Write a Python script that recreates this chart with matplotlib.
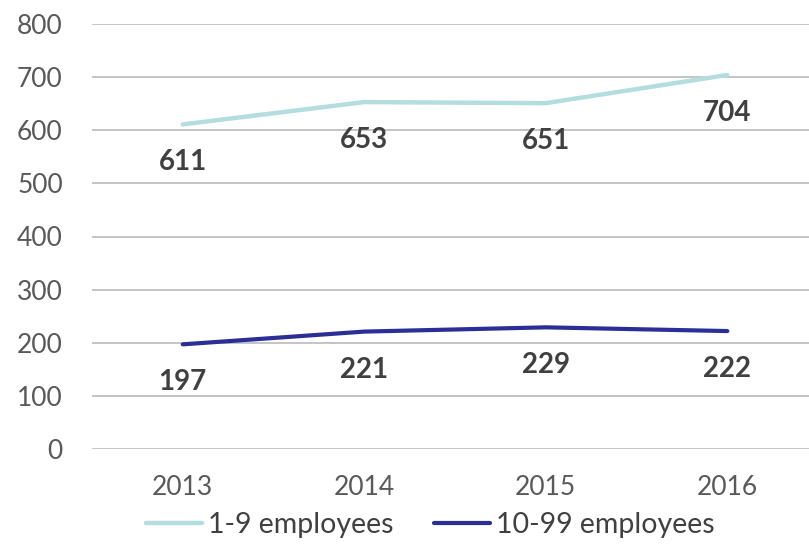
import matplotlib
matplotlib.use("Agg")
import matplotlib.pyplot as plt

years = ["2013", "2014", "2015", "2016"]
small = [611, 653, 651, 704]
medium = [197, 221, 229, 222]
series_names = ["1-9 employees", "10-99 employees"]
yticks = [0, 100, 200, 300, 400, 500, 600, 700, 800]

plt.rcParams['font.family'] = ['Lato', 'DejaVu Sans']

fig = plt.figure(figsize=(8.09, 5.48), dpi=100)
ax = fig.add_axes([92/809, 99/548, 1 - 92/809, 425/548])

x = list(range(len(years)))
c1 = "#B4DDE0"
c2 = "#2B2E96"
ax.plot(x, small, color=c1, lw=3.2, solid_capstyle='round', label=series_names[0], zorder=3)
ax.plot(x, medium, color=c2, lw=3.0, solid_capstyle='round', label=series_names[1], zorder=3)

for xi, v in zip(x, small):
    ax.annotate(str(v), (xi, v), xytext=(0, -38), textcoords='offset pixels',
                ha='center', va='center', fontsize=20, fontweight='bold', color='#404040')
for xi, v in zip(x, medium):
    ax.annotate(str(v), (xi, v), xytext=(0, -38), textcoords='offset pixels',
                ha='center', va='center', fontsize=20, fontweight='bold', color='#404040')

ax.set_xlim(-0.5, 3.45)
ax.set_ylim(0, 800)
ax.set_yticks(yticks)
ax.set_yticklabels([str(t) for t in yticks])
ax.set_xticks(x)
ax.set_xticklabels(years)
ax.grid(axis='y', color='#BFBFBF', lw=1.3)
ax.set_axisbelow(True)
for s in ax.spines.values():
    s.set_visible(False)
ax.tick_params(axis='both', length=0, labelsize=19, colors='#595959')
ax.tick_params(axis='y', pad=21)
ax.tick_params(axis='x', pad=19)

fig.legend(loc='lower center', bbox_to_anchor=(0.532, -0.028), ncol=2, frameon=False,
           fontsize=20.5, handlelength=1.95, handletextpad=0.2, columnspacing=1.45,
           labelcolor='#404040')

fig.savefig("out.png", dpi=100)
